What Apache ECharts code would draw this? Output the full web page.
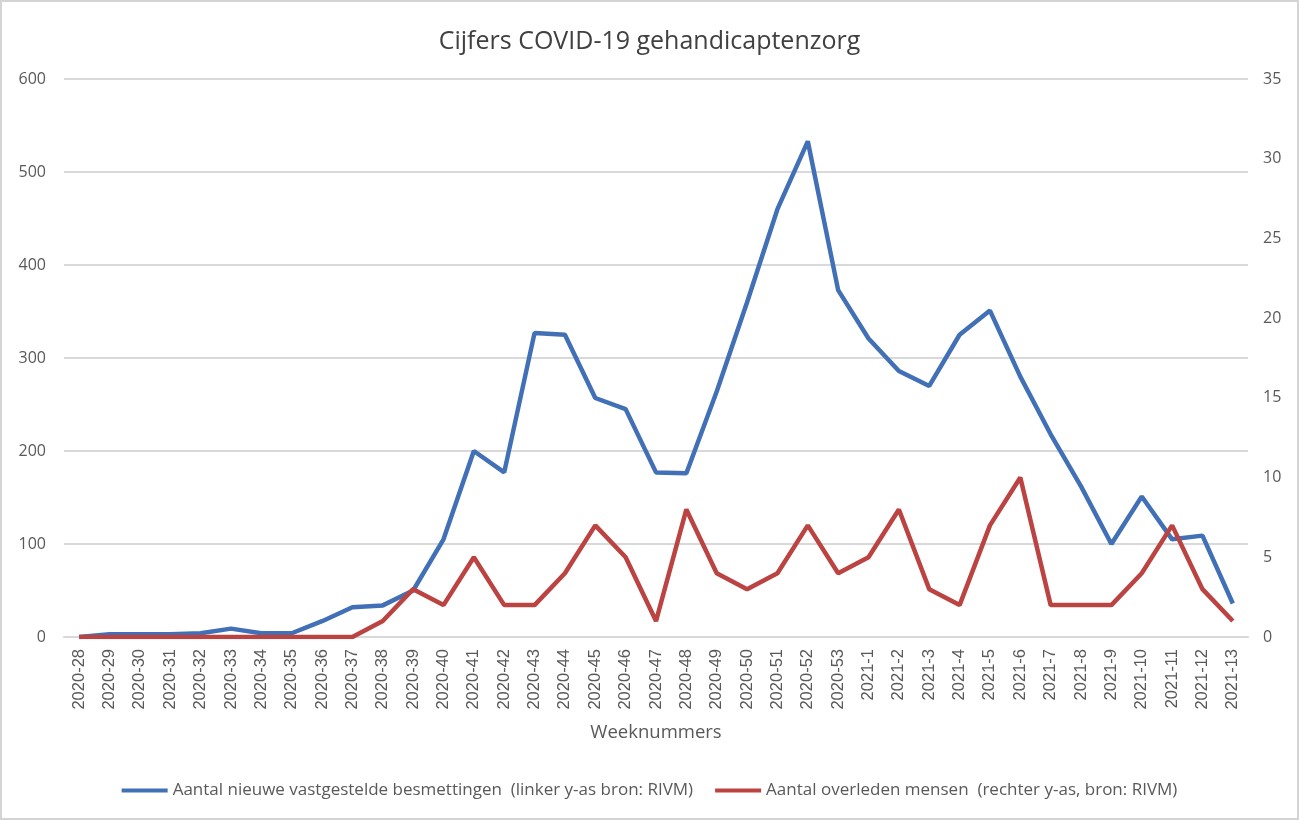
<!DOCTYPE html>
<html>
<head>
<meta charset="utf-8">
<script src="https://cdn.jsdelivr.net/npm/echarts@6/dist/echarts.min.js"></script>
<style>
  html, body { margin: 0; padding: 0; background: #fff; }
  #chart { width: 1299px; height: 820px; box-sizing: border-box; border: 2px solid #d4d4d4; }
</style>
</head>
<body>
<div id="chart"></div>
<script>
// weeks
const weeks = [
  "2020-28", "2020-29", "2020-30", "2020-31", "2020-32", "2020-33", "2020-34",
  "2020-35", "2020-36", "2020-37", "2020-38", "2020-39", "2020-40", "2020-41",
  "2020-42", "2020-43", "2020-44", "2020-45", "2020-46", "2020-47", "2020-48",
  "2020-49", "2020-50", "2020-51", "2020-52", "2020-53",
  "2021-1", "2021-2", "2021-3", "2021-4", "2021-5", "2021-6", "2021-7",
  "2021-8", "2021-9", "2021-10", "2021-11", "2021-12", "2021-13"
];

// nieuwe besmettingen (linker as)
const besmettingen = [
  0, 3, 3, 3, 4, 9, 4, 4, 17, 32, 34, 50, 105, 200,
  177, 327, 325, 257, 245, 177, 176, 264, 360, 460, 533, 373,
  321, 286, 270, 325, 351, 280, 218, 162, 100, 151, 105, 109, 36
];

// overleden (rechter as)
const overleden = [
  0, 0, 0, 0, 0, 0, 0, 0, 0, 0, 1, 3, 2, 5,
  2, 2, 4, 7, 5, 1, 8, 4, 3, 4, 7, 4,
  5, 8, 3, 2, 7, 10, 2, 2, 2, 4, 7, 3, 1
];

const leftTicks = { min: 0, max: 600, interval: 100 };
const rightTicks = { min: 0, max: 35, interval: 5 };

const textColor = "#595959";
const gridColor = "#d9d9d9";

const chart = echarts.init(document.getElementById("chart"));
chart.setOption({
  backgroundColor: "#fff",
  animation: false,
  title: {
    text: "Cijfers COVID-19 gehandicaptenzorg",
    left: "center",
    top: 22,
    textStyle: { fontFamily: "Open Sans", fontSize: 25, fontWeight: "normal", color: "#404040" }
  },
  legend: {
    bottom: 14,
    left: "center",
    icon: "rect",
    itemWidth: 46,
    itemHeight: 4,
    itemGap: 22,
    textStyle: { fontFamily: "Open Sans", fontSize: 17, color: textColor }
  },
  grid: { left: 62, right: 49, top: 77, bottom: 181 },
  xAxis: {
    type: "category",
    data: weeks,
    boundaryGap: true,
    name: "Weeknummers",
    nameLocation: "middle",
    nameGap: 86,
    nameTextStyle: { fontFamily: "Open Sans", fontSize: 18.5, color: textColor },
    axisLine: { lineStyle: { color: gridColor, width: 2 } },
    axisTick: { show: false },
    axisLabel: {
      rotate: 90,
      interval: 0,
      margin: 12,
      fontFamily: "Liberation Sans",
      fontSize: 16.5,
      color: textColor
    }
  },
  yAxis: [
    {
      type: "value",
      min: leftTicks.min,
      max: leftTicks.max,
      interval: leftTicks.interval,
      axisLine: { show: false },
      axisTick: { show: false },
      splitLine: { lineStyle: { color: gridColor, width: 2 } },
      axisLabel: { margin: 18, fontFamily: "Open Sans", fontSize: 16, color: textColor }
    },
    {
      type: "value",
      min: rightTicks.min,
      max: rightTicks.max,
      interval: rightTicks.interval,
      axisLine: { show: false },
      axisTick: { show: false },
      splitLine: { show: false },
      axisLabel: { margin: 15, fontFamily: "Open Sans", fontSize: 16, color: textColor }
    }
  ],
  series: [
    {
      name: "Aantal nieuwe vastgestelde besmettingen  (linker y-as bron: RIVM)",
      type: "line",
      yAxisIndex: 0,
      data: besmettingen,
      showSymbol: false,
      lineStyle: { width: 4.5, color: "#4270b7" },
      itemStyle: { color: "#4270b7" }
    },
    {
      name: "Aantal overleden mensen  (rechter y-as, bron: RIVM)",
      type: "line",
      yAxisIndex: 1,
      data: overleden,
      showSymbol: false,
      lineStyle: { width: 4.5, color: "#bb4341" },
      itemStyle: { color: "#bb4341" }
    }
  ]
});
</script>
</body>
</html>
